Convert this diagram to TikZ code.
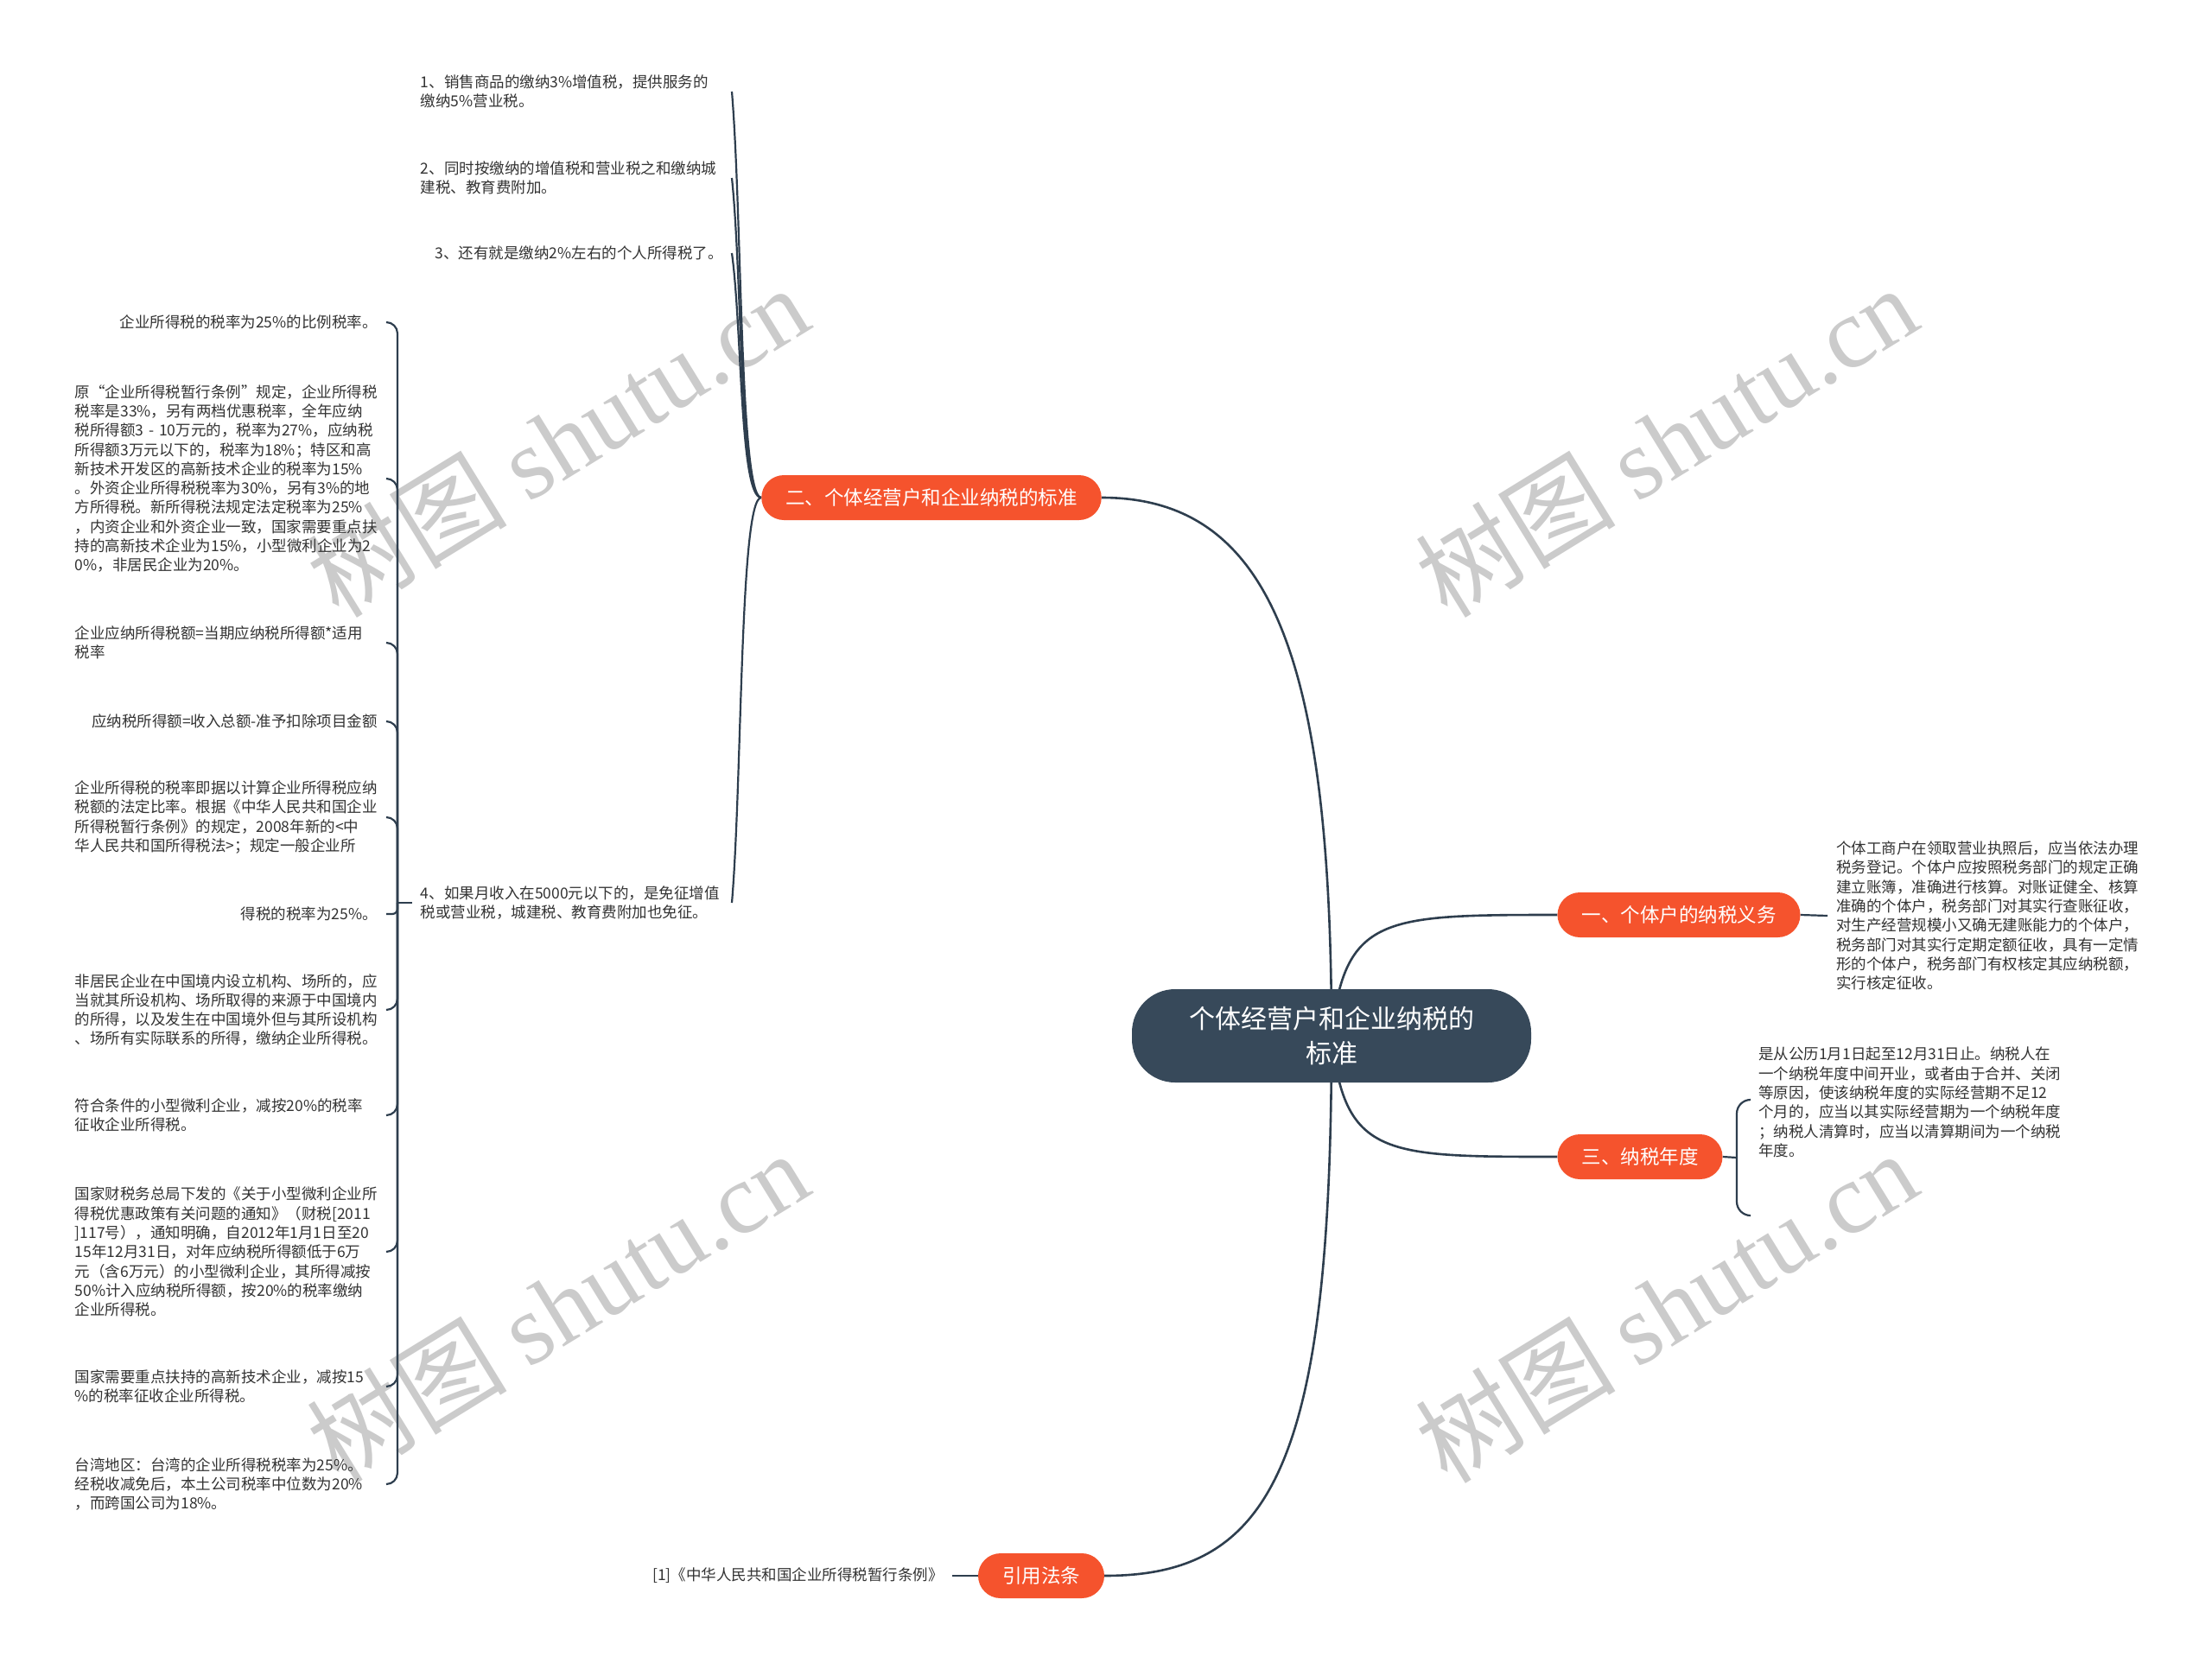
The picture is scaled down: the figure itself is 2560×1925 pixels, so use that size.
\documentclass[tikz,border=0pt]{standalone}
\usepackage{fontspec}
\setmainfont{Noto Sans CJK SC}
\newfontfamily\wmserif{Liberation Serif}
\usetikzlibrary{backgrounds}
\definecolor{slate}{HTML}{37495A}
\definecolor{linec}{HTML}{2E3E4E}
\definecolor{orng}{HTML}{F5532D}
\definecolor{leaftext}{HTML}{333333}
\definecolor{wm}{HTML}{CBCBCB}
\begin{document}
\begin{tikzpicture}[x=1pt,y=-1pt,
  root/.style={fill=slate, text=white, rounded corners=50pt, minimum height=108pt, inner xsep=66pt, inner ysep=0pt, align=center, font=\fontsize{30}{40}\selectfont},
  branch/.style={fill=orng, text=white, rounded corners=26pt, minimum height=52pt, inner xsep=28pt, inner ysep=0pt, font=\fontsize{22.5}{27}\selectfont},
  leaf/.style={text=leaftext, inner sep=10pt, text width=350pt, align=left, font=\fontsize{17.5}{22.3}\selectfont},
  leafr/.style={leaf, align=right},
  conn/.style={draw=linec, line width=2.6pt},
  thinc/.style={draw=linec, line width=2.2pt},
  wmark/.style={text=wm, rotate=31.6, font=\fontsize{116}{116}\selectfont}
]
\useasboundingbox (0,0) rectangle (2560,1925);

% main nodes
\node[root] (c) at (1541,1199) {个体经营户和企业纳税的\\标准};
\node[branch] (er) at (1078,576) {二、个体经营户和企业纳税的标准};
\node[branch] (yi) at (1943,1059) {一、个体户的纳税义务};
\node[branch] (san) at (1898,1339) {三、纳税年度};
\node[branch] (yin) at (1205,1824) {引用法条};

% children of 二
\node[leaf, anchor=east] (c1) at (847,106) {1、销售商品的缴纳3\%增值税，提供服务的\\缴纳5\%营业税。};
\node[leaf, anchor=east] (c2) at (847,206) {2、同时按缴纳的增值税和营业税之和缴纳城\\建税、教育费附加。};
\node[leafr, anchor=east] (c3) at (847,293) {3、还有就是缴纳2\%左右的个人所得税了。};
\node[leaf, anchor=east] (c4) at (847,1045) {4、如果月收入在5000元以下的，是免征增值\\税或营业税，城建税、教育费附加也免征。};

% grandchildren
\node[leafr, anchor=east] (g1) at (447,373) {企业所得税的税率为25\%的比例税率。};
\node[leaf, anchor=east] (g2) at (447,554) {原“企业所得税暂行条例”规定，企业所得税\\税率是33\%，另有两档优惠税率，全年应纳\\税所得额3 - 10万元的，税率为27\%，应纳税\\所得额3万元以下的，税率为18\%；特区和高\\新技术开发区的高新技术企业的税率为15\%\\。外资企业所得税税率为30\%，另有3\%的地\\方所得税。新所得税法规定法定税率为25\%\\，内资企业和外资企业一致，国家需要重点扶\\持的高新技术企业为15\%，小型微利企业为2\\0\%，非居民企业为20\%。};
\node[leaf, anchor=east] (g3) at (447,744) {企业应纳所得税额=当期应纳税所得额*适用\\税率};
\node[leafr, anchor=east] (g4) at (447,835) {应纳税所得额=收入总额-准予扣除项目金额};
\node[leaf, anchor=east] (g5) at (447,946) {企业所得税的税率即据以计算企业所得税应纳\\税额的法定比率。根据《中华人民共和国企业\\所得税暂行条例》的规定，2008年新的\textless 中\\华人民共和国所得税法\textgreater ；规定一般企业所};
\node[leafr, anchor=east] (g6) at (447,1058) {得税的税率为25\%。};
\node[leaf, anchor=east] (g7) at (447,1169) {非居民企业在中国境内设立机构、场所的，应\\当就其所设机构、场所取得的来源于中国境内\\的所得，以及发生在中国境外但与其所设机构\\、场所有实际联系的所得，缴纳企业所得税。};
\node[leaf, anchor=east] (g8) at (447,1291) {符合条件的小型微利企业，减按20\%的税率\\征收企业所得税。};
\node[leaf, anchor=east] (g9) at (447,1449) {国家财税务总局下发的《关于小型微利企业所\\得税优惠政策有关问题的通知》（财税[2011\\]117号），通知明确，自2012年1月1日至20\\15年12月31日，对年应纳税所得额低于6万\\元（含6万元）的小型微利企业，其所得减按\\50\%计入应纳税所得额，按20\%的税率缴纳\\企业所得税。};
\node[leaf, anchor=east] (g10) at (447,1605) {国家需要重点扶持的高新技术企业，减按15\\\%的税率征收企业所得税。};
\node[leaf, anchor=east] (g11) at (447,1718) {台湾地区：台湾的企业所得税税率为25\%。\\经税收减免后，本土公司税率中位数为20\%\\，而跨国公司为18\%。};

% right leaves
\node[leaf, anchor=west] (l1) at (2115,1060) {个体工商户在领取营业执照后，应当依法办理\\税务登记。个体户应按照税务部门的规定正确\\建立账簿，准确进行核算。对账证健全、核算\\准确的个体户，税务部门对其实行查账征收，\\对生产经营规模小又确无建账能力的个体户，\\税务部门对其实行定期定额征收，具有一定情\\形的个体户，税务部门有权核定其应纳税额，\\实行核定征收。};
\node[leaf, anchor=west] (l3) at (2025,1276) {是从公历1月1日起至12月31日止。纳税人在\\一个纳税年度中间开业，或者由于合并、关闭\\等原因，使该纳税年度的实际经营期不足12\\个月的，应当以其实际经营期为一个纳税年度\\；纳税人清算时，应当以清算期间为一个纳税\\年度。};
\node[leaf, text width=, anchor=east] (ly) at (1102,1824) {[1]《中华人民共和国企业所得税暂行条例》};

\coordinate (j4) at (460,1045);
\coordinate (j3) at (2010,1340);
\coordinate (b3t) at (2025,1273);
\coordinate (b3b) at (2025,1407);

\begin{pgfonlayer}{background}
\fill[white] (0,0) rectangle (2560,1925);
% watermarks
\node[wmark] (w1) at (645,510) {树图 {\wmserif shutu.cn}};
\node[wmark] (w2) at (1928,510) {树图 {\wmserif shutu.cn}};
\node[wmark] (w3) at (645,1512) {树图 {\wmserif shutu.cn}};
\node[wmark] (w4) at (1928,1512) {树图 {\wmserif shutu.cn}};
% main connectors
\draw[conn] (c.center) .. controls (1541,760) and (1470,576) .. (er.east);
\draw[conn] (c.center) .. controls (1556,1060) and (1600,1059) .. (yi.west);
\draw[conn] (c.center) .. controls (1556,1339) and (1600,1339) .. (san.west);
\draw[conn] (c.center) .. controls (1541,1700) and (1470,1824) .. (yin.east);
% 二 children
\draw[thinc] (er.west) .. controls (856,576) and (859,250) .. (c1.east);
\draw[thinc] (er.west) .. controls (856,576) and (859,320) .. (c2.east);
\draw[thinc] (er.west) .. controls (856,576) and (859,380) .. (c3.east);
\draw[thinc] (er.west) .. controls (856,576) and (859,905) .. (c4.east);
% grandchildren bracket
\draw[thinc] (c4.west) -- (j4);
\foreach \g in {g1,g2,g3,g4,g5,g7,g8,g9,g10,g11}
  \draw[thinc, rounded corners=13pt] (j4) |- (\g.east);
\draw[thinc, rounded corners=6pt] (j4) |- (g6.east);
% right side
\draw[thinc] (yi.east) -- (l1.west);
\draw[thinc] (san.east) -- (j3);
\draw[thinc, rounded corners=16pt] (b3t) -| (j3) |- (b3b);
\draw[thinc] (ly.east) -- (yin.west);
\end{pgfonlayer}
\end{tikzpicture}
\end{document}
